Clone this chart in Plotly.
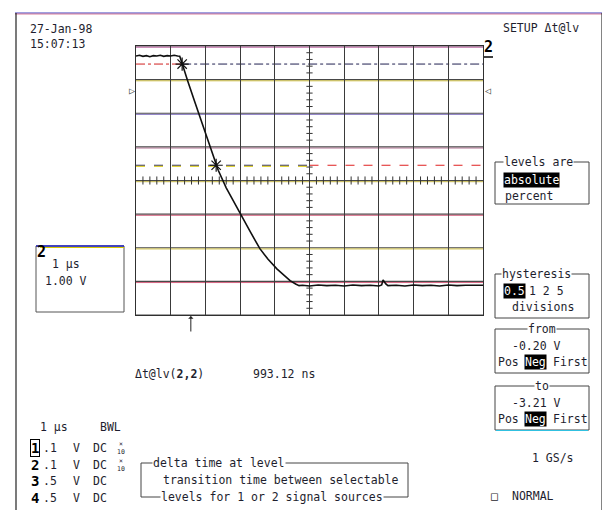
import plotly.graph_objects as go

# ---------------- data ----------------
time_us = [0.00, 0.10, 0.20, 0.30, 0.40, 0.50, 0.60, 0.70, 0.80, 0.90, 1.00, 1.10, 1.20, 1.26,
           1.29, 1.33, 1.50, 1.70, 1.90, 2.10, 2.31, 2.37, 2.60, 3.00, 3.30, 3.57, 3.80, 4.06,
           4.25, 4.44, 4.60, 4.70, 4.80, 5.00, 5.25, 5.50, 5.75, 6.00, 6.25, 6.50, 6.75, 7.00,
           7.08, 7.12, 7.20, 7.26, 7.50, 7.75, 8.00, 8.25, 8.50, 8.75, 9.00, 9.25, 9.50, 9.75, 10.00]
volts_ch2 = [0.04, 0.06, 0.03, 0.05, 0.02, 0.05, 0.04, 0.06, 0.03, 0.05, 0.04, 0.06, 0.04, 0.03,
             -0.06, -0.20, -0.73, -1.34, -1.96, -2.58, -3.21, -3.36, -3.88, -4.65, -5.20, -5.69, -6.00, -6.29,
             -6.48, -6.64, -6.74, -6.79, -6.78, -6.80, -6.77, -6.79, -6.78, -6.80, -6.77, -6.79, -6.78, -6.80,
             -6.77, -6.62, -6.74, -6.79, -6.78, -6.80, -6.77, -6.79, -6.78, -6.80, -6.77, -6.79, -6.78, -6.79, -6.78]
cursor_t = [1.33, 2.31]
cursor_v = [-0.20, -3.21]
level_from_v = -0.20
level_to_v = -3.21
trigger_t = 1.58
x_range = [0, 10]            # 1 us / div, 10 div
y_range = [-7.663, 0.337]    # 1 V / div, 8 div
y_center = -3.663

date_text = "27-Jan-98"
time_text = "15:07:13"
setup_text = "SETUP \u0394t@lv"
measure_value = "993.12 ns"
channel_rows = [("1", ".1", "V", "DC", True), ("2", ".1", "V", "DC", True),
                ("3", ".5", "V", "DC", False), ("4", ".5", "V", "DC", False)]
help_lines = ["transition time between selectable", "levels for 1 or 2 signal sources"]

# ---------------- styling / layout helpers ----------------
MONO = "DejaVu Sans Mono"
INK = "#1e1e2e"
L, R, T, B = 136, 483, 46, 315      # plot area in window pixels
W, H = 610, 510
OFF = 8                              # page body margin of the browser


def X(px):
    return (px - L) / (R - L)


def Y(py):
    return (B - py) / (B - T)


anns = []
shapes = []


def txt(s, px, py, size=11.5, color=INK, anchor="left", bg=None, border=None):
    a = dict(text=s, x=X(px), y=Y(py), xref="paper", yref="paper", xanchor=anchor,
             yanchor="middle", showarrow=False, font=dict(family=MONO, size=size, color=color))
    if bg is not None:
        a.update(bgcolor=bg, borderpad=0)
    if border is not None:
        a.update(bordercolor=border, borderwidth=1, borderpad=0)
    anns.append(a)


def pline(x0, y0, x1, y1, color="#333", width=1, dash=None):
    ln = dict(color=color, width=width)
    if dash:
        ln["dash"] = dash
    shapes.append(dict(type="line", xref="paper", yref="paper", x0=X(x0), y0=Y(y0),
                       x1=X(x1), y1=Y(y1), line=ln, layer="above"))


def prect(x0, y0, x1, y1, color="#444", width=1):
    shapes.append(dict(type="rect", xref="paper", yref="paper", x0=X(x0), y0=Y(y0),
                       x1=X(x1), y1=Y(y1), line=dict(color=color, width=width), layer="above"))


def dline(x0, y0, x1, y1, color, width=1, dash=None, layer="below"):
    ln = dict(color=color, width=width)
    if dash:
        ln["dash"] = dash
    shapes.append(dict(type="line", xref="x", yref="y", x0=x0, y0=y0, x1=x1, y1=y1,
                       line=ln, layer=layer))


# ---------------- grid overlays (colour fringes of the print) ----------------
fringe = ["#b04890", "#c8b830", "#8070c0", "#b07090", "#b8a830", "#d05070", "#c8b830", "#d05070", "#d8c800"]
for k in range(9):
    yv = y_range[1] - k
    dline(0, yv, 10, yv, "#484848", 1.1)
    dline(0, yv - 0.035, 10, yv - 0.035, fringe[k], 0.9)

# centre ticks
for i in range(50):
    tx = i * 0.2
    if i % 5 == 0:
        continue
    dline(tx, y_center - 0.12, tx, y_center + 0.12, "#333", 1)
for i in range(40):
    ty = y_range[0] + i * 0.2
    if i % 5 == 0:
        continue
    dline(5 - 0.09, ty, 5 + 0.09, ty, "#333", 1)

# level lines
dline(0, level_from_v, cursor_t[0], level_from_v, "#d02020", 1, "dashdot")
dline(cursor_t[0], level_from_v, 10, level_from_v, "#202050", 1, "dashdot")
dline(0, level_to_v, 5, level_to_v, "#202060", 1.2, "dash")
dline(0, level_to_v - 0.03, 5, level_to_v - 0.03, "#d8c800", 1, "dash")
dline(5, level_to_v, 10, level_to_v, "#e02020", 1.2, "dash")

# ---------------- frame & boxes ----------------
pline(15, 13, 602, 13, "#4040c0", 1.2)
pline(15, 14, 602, 14, "#d06080", 0.8)
pline(16, 13, 16, 510, "#222", 1.2)
pline(602, 13, 602, 510, "#333", 1.2)
pline(3, 13, 3, 510, "#d0a040", 1, "dash")

# left channel box
prect(36, 246, 124, 312, "#555")
pline(36, 246, 124, 246, "#2020c0", 1.5)
pline(40, 247.5, 124, 247.5, "#d8c800", 1)
txt("<b>2</b>", 35, 252, 15, "#000")
txt("1 \u00b5s", 50, 264)
txt("1.00 V", 43, 281)

# right menu boxes
prect(495, 162, 589, 204)
txt("levels are", 503, 162, bg="white")
txt("absolute", 503, 180, color="white", bg="#000")
txt("percent", 503, 196)

prect(495, 274, 589, 318)
txt("hysteresis", 501, 274, bg="white")
txt("0.5", 503, 291, color="white", bg="#000")
txt("1 2 5", 527, 291)
txt("divisions", 510, 307)

for (title, val, y0) in [("from", "-0.20 V", 329), ("to", "-3.21 V", 386)]:
    prect(495, y0, 589, y0 + 44)
    txt(title, 542, y0, anchor="center", bg="white")
    txt(val, 510, y0 + 17)
    txt("Pos", 496, y0 + 33)
    txt("Neg", 524, y0 + 33, color="white", bg="#000")
    txt("First", 551, y0 + 33)
pline(496, 430.5, 588, 430.5, "#30c0e0", 1)

# top texts
txt(date_text, 28, 29)
txt(time_text, 28, 44)
txt(setup_text, 501, 28)
txt("<b>2</b>", 482, 47, 15, "#000")
pline(484, 57, 493, 57, "#000", 1.5)
txt("\u25b7", 127, 90, 10, "#444")
txt("\u25c1", 483, 90, 10, "#444")

# measurement
txt("\u0394t@lv(<b>2,2</b>)", 133, 374)
txt(measure_value, 251, 374)

# bottom-left channel table
txt("1 \u00b5s", 38, 427)
txt("BWL", 98, 427)
row_y = [448, 465, 481, 498]
for (num, vdiv, unit, cpl, x10), yy in zip(channel_rows, row_y):
    if num == "1":
        txt("<b>" + num + "</b>", 30, yy, 14, "#000", border="#000")
    else:
        txt("<b>" + num + "</b>", 29, yy, 14, "#000")
    txt(vdiv, 41, yy)
    txt(unit, 71, yy)
    txt(cpl, 91, yy)
    if x10:
        txt("\u00d7<br>10", 115, yy, 6.5)

# help bracket
prect(141, 463, 408, 497, "#444")
txt("delta time at level", 152, 463, bg="white")
txt(help_lines[0], 161, 480)
txt(help_lines[1], 160, 497, bg="white")

txt("1 GS/s", 530, 458)
txt("\u25a1", 489, 496, 11.5)
txt("NORMAL", 510, 496)

# trigger arrow
anns.append(dict(x=trigger_t, y=Y(316), xref="x", yref="paper", ax=0, ay=17,
                 showarrow=True, arrowhead=1, arrowsize=0.9, arrowwidth=1, arrowcolor="#222", text=""))

# ---------------- figure ----------------
fig = go.Figure()
fig.add_trace(go.Scatter(x=time_us, y=volts_ch2, mode="lines",
                         line=dict(color="#101010", width=1.6), hoverinfo="skip"))
fig.add_trace(go.Scatter(x=cursor_t, y=cursor_v, mode="markers",
                         marker=dict(symbol="asterisk-open", size=11, color="#111",
                                     line=dict(color="#111", width=1.2)), hoverinfo="skip"))

fig.update_layout(
    width=W - OFF, height=H - OFF,
    margin=dict(l=L - OFF, r=W - R, t=T - OFF, b=H - B, pad=0),
    paper_bgcolor="white", plot_bgcolor="white",
    showlegend=False,
    xaxis=dict(range=x_range, dtick=1, tick0=0, showgrid=True, gridcolor="#3a3a3a", gridwidth=1.3,
               showticklabels=False, ticks="", zeroline=False, showline=True, mirror=True,
               linecolor="#303030", linewidth=1.4, fixedrange=True),
    yaxis=dict(range=y_range, dtick=1, tick0=y_range[1], showgrid=False,
               showticklabels=False, ticks="", zeroline=False, showline=True, mirror=True,
               linecolor="#303030", linewidth=1.4, fixedrange=True),
    shapes=shapes,
    annotations=anns,
)

fig.write_html("out.html")
